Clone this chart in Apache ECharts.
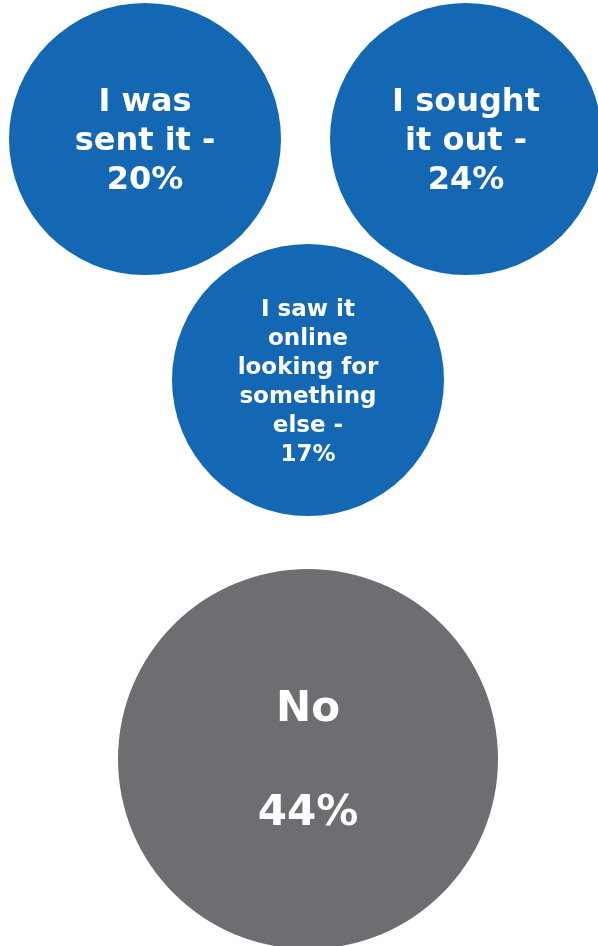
<!DOCTYPE html>
<html>
<head>
<meta charset="utf-8">
<script src="https://cdn.jsdelivr.net/npm/echarts@6/dist/echarts.min.js"></script>
<style>
  html, body { margin: 0; padding: 0; background: #ffffff; }
  #chart { width: 598px; height: 946px; }
</style>
</head>
<body>
<div id="chart"></div>
<script>
// Data
const categories = ['I was\nsent it -', 'I sought\nit out -', 'I saw it\nonline\nlooking for\nsomething\nelse -', 'No\n'];
const values = [20, 24, 17, 44];

// Layout (bubble centres / diameters in canvas pixels) and styles
const layoutX = [145, 466, 308, 308];
const layoutY = [139, 139, 380, 759];
const diameters = [272, 272, 272, 380];
const colors = ['#1467b2', '#1467b2', '#1467b2', '#6d6e72'];
const fontSizes = [32, 32, 23, 42];
const lineHeights = [39, 39, 29, 52];

const chart = echarts.init(document.getElementById('chart'), null, { renderer: 'canvas' });

const seriesData = categories.map((c, i) => ({
  name: c,
  value: [layoutX[i], layoutY[i], values[i]],
  symbolSize: diameters[i],
  itemStyle: { color: colors[i], opacity: 1 },
  label: { fontSize: fontSizes[i], lineHeight: lineHeights[i] }
}));

chart.setOption({
  animation: false,
  backgroundColor: '#ffffff',
  grid: { left: 0, right: 0, top: 0, bottom: 0 },
  xAxis: { type: 'value', min: 0, max: 598, show: false },
  yAxis: { type: 'value', min: 0, max: 946, inverse: true, show: false },
  series: [{
    type: 'scatter',
    symbol: 'circle',
    clip: false,
    data: seriesData,
    itemStyle: { opacity: 1 },
    label: {
      show: true,
      position: 'inside',
      offset: [0, 3],
      color: '#ffffff',
      fontFamily: 'DejaVu Sans',
      fontWeight: 'bold',
      align: 'center',
      verticalAlign: 'middle',
      formatter: p => p.name + '\n' + p.value[2] + '%'
    },
    emphasis: { disabled: true }
  }]
});
</script>
</body>
</html>
